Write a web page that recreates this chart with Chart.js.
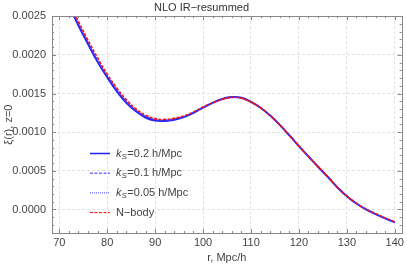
<!DOCTYPE html>
<html>
<head>
<meta charset="utf-8">
<script src="https://cdn.jsdelivr.net/npm/chart.js@4/dist/chart.umd.min.js"></script>
<style>
  body { margin: 0; background: #fff; }
  #wrap { width: 407px; height: 265px; }
</style>
</head>
<body>
<div id="wrap"><canvas id="grafico"></canvas></div>
<script>
// dados
const raios = [70, 72, 74, 76, 78, 80, 82, 84, 86, 88, 90, 92, 94, 96, 98, 100, 102, 104, 106, 108,
  110, 112, 114, 116, 118, 120, 122, 124, 126, 128, 130, 132, 134, 136, 138, 140];

const xiK02 = [0.00291, 0.00264, 0.00238, 0.00214, 0.00191, 0.00171, 0.00153, 0.00138, 0.00127, 0.00119,
  0.00115, 0.001145, 0.00116, 0.001195, 0.00125, 0.001318, 0.00138, 0.00143, 0.001455, 0.001445,
  0.001392, 0.001316, 0.001215, 0.001095, 0.00096, 0.00082, 0.000685, 0.000553, 0.000423, 0.000288,
  0.000172, 0.000077, 0.000001, -0.000059, -0.000114, -0.000165];

const xiK01 = [0.00292, 0.00265, 0.00239, 0.00215, 0.00192, 0.00172, 0.00154, 0.00139, 0.00128, 0.00120,
  0.001158, 0.001152, 0.001168, 0.0012, 0.001255, 0.00132, 0.00138, 0.00143, 0.001452, 0.001443,
  0.001391, 0.001316, 0.001215, 0.001095, 0.00096, 0.00082, 0.000685, 0.000554, 0.000424, 0.000289,
  0.000173, 0.000078, 0.000003, -0.000057, -0.000112, -0.000163];

const xiK005 = [0.00293, 0.00266, 0.00240, 0.00216, 0.00193, 0.00173, 0.00155, 0.00140, 0.00128, 0.00121,
  0.001165, 0.001158, 0.001172, 0.001205, 0.001258, 0.001322, 0.00138, 0.001428, 0.00145, 0.001441,
  0.00139, 0.001315, 0.001215, 0.001095, 0.00096, 0.00082, 0.000685, 0.000555, 0.000425, 0.00029,
  0.000174, 0.000079, 0.000004, -0.000056, -0.000111, -0.000161];

const xiNbody = [0.00296, 0.00269, 0.00243, 0.00219, 0.00196, 0.00175, 0.00157, 0.00142, 0.00130, 0.00122,
  0.001175, 0.001165, 0.00118, 0.00121, 0.00126, 0.001325, 0.00138, 0.001425, 0.00145, 0.00144,
  0.00139, 0.001315, 0.001215, 0.001095, 0.00096, 0.00082, 0.000685, 0.000555, 0.000425, 0.00029,
  0.000175, 0.00008, 0.000005, -0.000055, -0.00011, -0.00016];

const rotulosLegenda = ["0.2 h/Mpc", "0.1 h/Mpc", "0.05 h/Mpc", "N−body"];

const FONTE = "'Liberation Sans', Arial, sans-serif";
const COR_TEXTO = "#444";

function pontos(valores) {
  return raios.map((r, i) => ({ x: r, y: valores[i] }));
}

// -------------------------
// Moldura e marcas internas (estilo Mathematica)
// -------------------------
const molduraPlugin = {
  id: "moldura",
  afterDatasetsDraw(chart) {
    const { ctx, chartArea: a, scales } = chart;
    const sx = scales.x, sy = scales.y;
    ctx.save();
    ctx.strokeStyle = "#888";
    ctx.lineWidth = 1;

    // marcas em x
    for (let v = 70; v <= 140.001; v += 2) {
      const px = Math.round(sx.getPixelForValue(v)) + 0.5;
      const len = (Math.round(v) % 10 === 0) ? 4 : 2;
      ctx.beginPath();
      ctx.moveTo(px, a.bottom); ctx.lineTo(px, a.bottom - len);
      ctx.moveTo(px, a.top); ctx.lineTo(px, a.top + len);
      ctx.stroke();
    }
    // marcas em y
    for (let k = -3; k <= 25; k++) {
      const py = Math.round(sy.getPixelForValue(k * 0.0001)) + 0.5;
      const len = (k % 5 === 0) ? 4 : 2;
      ctx.beginPath();
      ctx.moveTo(a.left, py); ctx.lineTo(a.left + len, py);
      ctx.moveTo(a.right, py); ctx.lineTo(a.right - len, py);
      ctx.stroke();
    }
    ctx.strokeRect(Math.round(a.left) + 0.5, Math.round(a.top) + 0.5,
      Math.round(a.right - a.left), Math.round(a.bottom - a.top));
    ctx.restore();
  }
};

// -------------------------
// Legenda dentro da area
// -------------------------
const legendaPlugin = {
  id: "legendaInterna",
  afterDraw(chart) {
    const { ctx, chartArea: a } = chart;
    ctx.save();
    ctx.textBaseline = "middle";
    chart.data.datasets.forEach((ds, i) => {
      const y = 153.5 + i * 19.7;
      const x0 = a.left + 38;
      ctx.strokeStyle = ds.borderColor;
      ctx.lineWidth = ds.legendWidth;
      ctx.setLineDash(ds.borderDash || []);
      ctx.beginPath();
      ctx.moveTo(x0, y); ctx.lineTo(x0 + 20, y);
      ctx.stroke();
      ctx.setLineDash([]);

      let tx = x0 + 26;
      ctx.fillStyle = COR_TEXTO;
      if (i < 3) {
        ctx.font = "italic 11px " + FONTE;
        ctx.fillText("k", tx, y);
        tx += ctx.measureText("k").width;
        ctx.font = "italic 8px " + FONTE;
        ctx.fillText("S", tx, y + 3);
        tx += ctx.measureText("S").width + 0.5;
        ctx.font = "11px " + FONTE;
        ctx.fillText("=" + rotulosLegenda[i], tx, y);
      } else {
        ctx.font = "11px " + FONTE;
        ctx.fillText(rotulosLegenda[i], tx, y);
      }
    });
    ctx.restore();
  }
};

const ctxGrafico = document.getElementById("grafico").getContext("2d");

new Chart(ctxGrafico, {
  type: "line",
  data: {
    datasets: [
      { label: "kS=0.2 h/Mpc", data: pontos(xiK02), borderColor: "#2020ff", borderWidth: 2, legendWidth: 1.5, order: 3 },
      { label: "kS=0.1 h/Mpc", data: pontos(xiK01), borderColor: "#3030ff", borderWidth: 1.2, borderDash: [3, 1.5], legendWidth: 1, order: 2 },
      { label: "kS=0.05 h/Mpc", data: pontos(xiK005), borderColor: "#4040ff", borderWidth: 1.2, borderDash: [1, 1], legendWidth: 1, order: 1 },
      { label: "N-body", data: pontos(xiNbody), borderColor: "#ff1010", borderWidth: 1.6, borderDash: [3, 1.5], legendWidth: 1, order: 0 }
    ]
  },
  options: {
    responsive: true,
    maintainAspectRatio: false,
    animation: false,
    layout: { padding: { left: 0, right: 4, top: 0, bottom: 0 } },
    elements: {
      point: { radius: 0 },
      line: { tension: 0.4, fill: false }
    },
    plugins: {
      legend: { display: false },
      tooltip: { enabled: false },
      title: {
        display: true,
        text: "NLO IR−resummed",
        color: "#333",
        font: { family: FONTE, size: 11, weight: "normal" },
        padding: { top: 1, bottom: 2 }
      }
    },
    scales: {
      x: {
        type: "linear",
        min: 68.48,
        max: 141.43,
        afterFit(scale) { scale.height = 32; },
        ticks: {
          stepSize: 10,
          includeBounds: false,
          padding: 3,
          color: COR_TEXTO,
          font: { family: FONTE, size: 11 },
          maxRotation: 0,
          callback: v => String(v)
        },
        grid: { color: "#e2e2e2", drawTicks: false, lineWidth: 1 },
        border: { display: false, dash: [3, 2] },
        title: {
          display: true,
          text: "r, Mpc/h",
          color: COR_TEXTO,
          font: { family: FONTE, size: 11 },
          padding: { top: 0, bottom: 0 }
        }
      },
      y: {
        type: "linear",
        min: -0.000304,
        max: 0.0025,
        afterFit(scale) { scale.width = 52; },
        ticks: {
          stepSize: 0.0005,
          includeBounds: false,
          padding: 6,
          color: COR_TEXTO,
          font: { family: FONTE, size: 11 },
          callback: v => v.toFixed(4)
        },
        grid: { color: "#e2e2e2", drawTicks: false, lineWidth: 1 },
        border: { display: false, dash: [3, 2] },
        title: {
          display: true,
          text: "ξ(r), z=0",
          color: COR_TEXTO,
          font: { family: FONTE, size: 11 },
          padding: { top: 2, bottom: 0 }
        }
      }
    }
  },
  plugins: [molduraPlugin, legendaPlugin]
});
</script>
</body>
</html>
